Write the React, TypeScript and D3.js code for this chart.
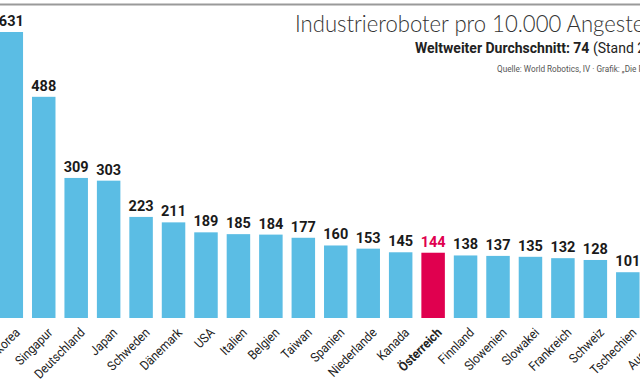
import { useEffect, useRef } from "react";
import * as d3 from "d3";

const COUNTRIES = [
  "Südkorea", "Singapur", "Deutschland", "Japan", "Schweden", "Dänemark", "USA",
  "Italien", "Belgien", "Taiwan", "Spanien", "Niederlande", "Kanada", "Österreich",
  "Finnland", "Slowenien", "Slowakei", "Frankreich", "Schweiz", "Tschechien", "Australien",
];
const ROBOTS = [631, 488, 309, 303, 223, 211, 189, 185, 184, 177, 160, 153, 145, 144, 138, 137, 135, 132, 128, 101, 83];
const HIGHLIGHT = "Österreich";

const TITLE = "Industrieroboter pro 10.000 Angestellte";
const SUB_BOLD = "Weltweiter Durchschnitt: 74";
const SUB_REST = " (Stand 2016)";
const SOURCE = "Quelle: World Robotics, IV  · Grafik: „Die Presse“";

const W = 640;
const H = 384;
const BLUE = "#5bbde4";
const PINK = "#e0004f";
const FONT = "Roboto, 'Liberation Sans', sans-serif";

export default function App() {
  const svgRef = useRef<SVGSVGElement>(null);

  useEffect(() => {
    if (!svgRef.current) return;
    const svg = d3.select(svgRef.current);
    svg.selectAll("*").remove();

    const x = d3.scaleBand<string>().domain(COUNTRIES).range([-0.45, 672]).paddingInner(0.276).paddingOuter(0);
    const y = d3.scaleLinear().domain([0, 631]).range([318, 32]);

    // top rule
    svg.append("line").attr("x1", 0).attr("x2", W).attr("y1", 4.5).attr("y2", 4.5)
      .attr("stroke", "#9a9a9a").attr("stroke-width", 2);

    // title block (runs off the right edge, as in the original)
    svg.append("text").attr("x", 295).attr("y", 32)
      .attr("font-family", "Lato, Roboto, sans-serif").attr("font-weight", 300)
      .attr("font-size", 24).attr("fill", "#333")
      .attr("textLength", 378).attr("lengthAdjust", "spacingAndGlyphs")
      .text(TITLE);

    const sub = svg.append("text").attr("x", 415).attr("y", 53)
      .attr("font-family", FONT).attr("font-size", 14).attr("fill", "#222");
    sub.append("tspan").attr("font-weight", 700).text(SUB_BOLD);
    sub.append("tspan").attr("font-weight", 400).text(SUB_REST);

    svg.append("text").attr("x", 497).attr("y", 72)
      .attr("font-family", FONT).attr("font-size", 8.2).attr("fill", "#555")
      .text(SOURCE);

    const data = COUNTRIES.map((c, i) => ({ c, v: ROBOTS[i] }));

    svg.selectAll("rect.bar").data(data).enter().append("rect")
      .attr("class", "bar")
      .attr("x", (d) => x(d.c)!)
      .attr("width", x.bandwidth())
      .attr("y", (d) => y(d.v))
      .attr("height", (d) => y(0) - y(d.v))
      .attr("fill", (d) => (d.c === HIGHLIGHT ? PINK : BLUE));

    svg.selectAll("text.val").data(data).enter().append("text")
      .attr("class", "val")
      .attr("x", (d) => x(d.c)! + x.bandwidth() / 2)
      .attr("y", (d) => y(d.v) - 6)
      .attr("text-anchor", "middle")
      .attr("font-family", FONT).attr("font-weight", 700).attr("font-size", 14.5)
      .attr("fill", (d) => (d.c === HIGHLIGHT ? PINK : "#1a1a1a"))
      .text((d) => d.v);

    svg.selectAll("text.cat").data(data).enter().append("text")
      .attr("class", "cat")
      .attr("transform", (d) => `translate(${x(d.c)! + x.bandwidth() / 2 + 3},${y(0) + 9}) rotate(-45) scale(0.9,1)`)
      .attr("text-anchor", "end")
      .attr("dy", "0.7em")
      .attr("font-family", FONT).attr("font-size", 13)
      .attr("font-weight", (d) => (d.c === HIGHLIGHT ? 700 : 400))
      .attr("fill", "#222")
      .text((d) => d.c);
  }, []);

  return (
    <svg
      ref={svgRef}
      width={W}
      height={H}
      style={{ position: "absolute", left: 0, top: 0, background: "#fff", display: "block" }}
    />
  );
}
